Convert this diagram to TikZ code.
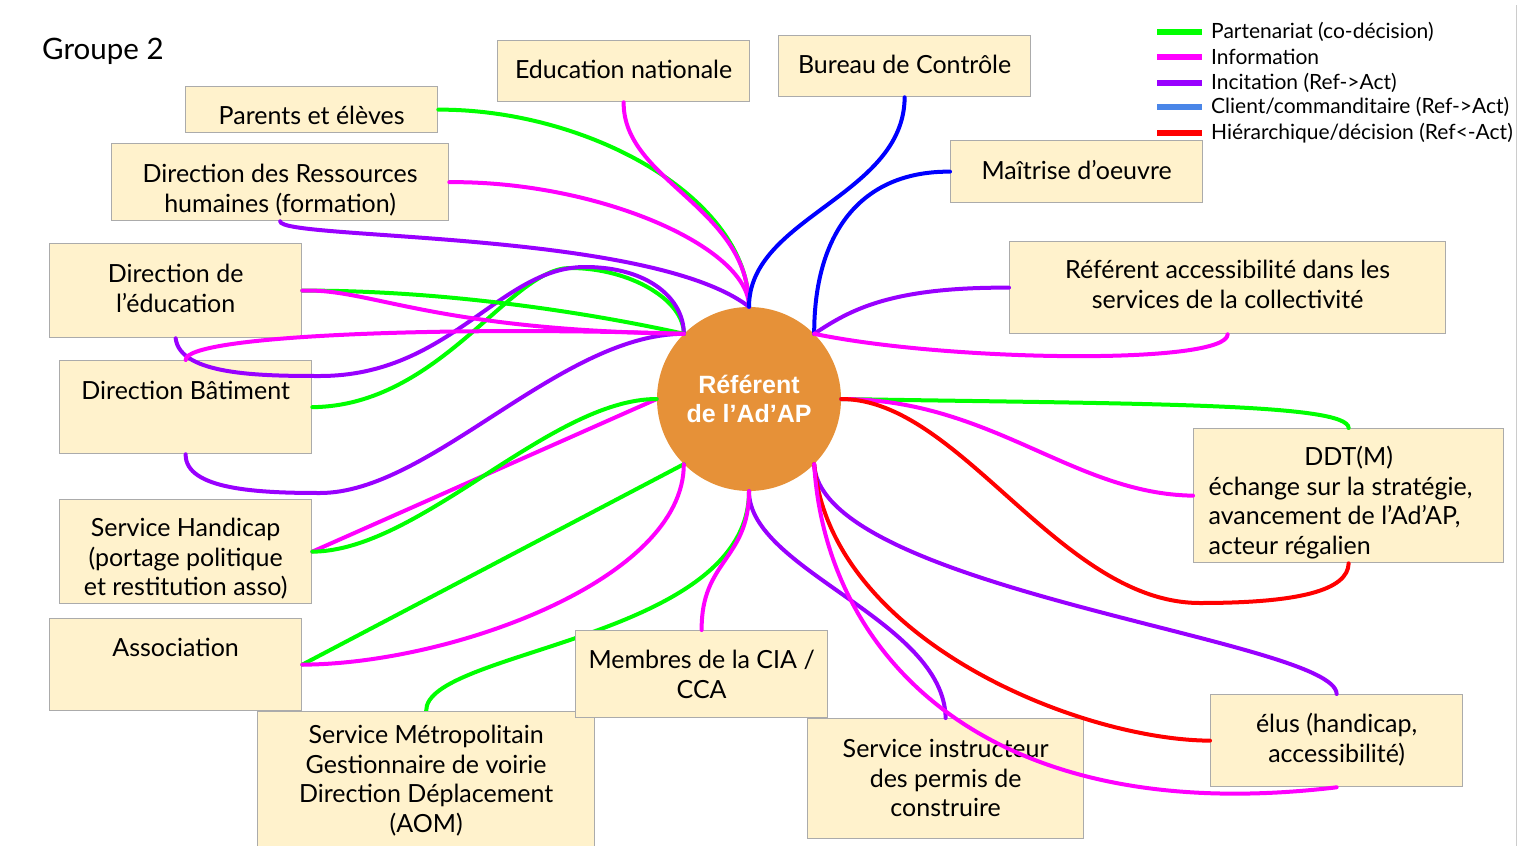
\documentclass[tikz,border=0pt]{standalone}
\usepackage{fontspec}
\setmainfont{Lato}
\newfontfamily\reffont{Liberation Sans}
\definecolor{cgreen}{HTML}{00FF00}
\definecolor{cmag}{HTML}{FF00FF}
\definecolor{cpurp}{HTML}{9900FF}
\definecolor{cblue}{HTML}{0000FF}
\definecolor{clblue}{HTML}{4A86E8}
\definecolor{cred}{HTML}{FF0000}
\definecolor{boxfill}{HTML}{FFF2CC}
\definecolor{boxline}{HTML}{ABABAB}
\definecolor{refcol}{HTML}{E69138}
\pgfdeclarelayer{back}
\pgfdeclarelayer{bg}
\pgfsetlayers{back,bg,main}
\tikzset{
  box/.style={draw=boxline, fill=boxfill, line width=1.3pt, anchor=north west,
    inner xsep=4pt, inner ysep=0pt, align=center,
    font=\fontsize{25}{29.5}\selectfont},
  tb/.style n args={3}{minimum width=#1pt, text height=#2pt, text depth=#3pt},
  conn/.style={line width=4pt, line cap=round},
  lgreen/.style={conn, draw=cgreen},
  lmag/.style={conn, draw=cmag},
  lpurp/.style={conn, draw=cpurp},
  lblue/.style={conn, draw=cblue},
  lred/.style={conn, draw=cred},
  legline/.style={line width=5.5pt},
  legtext/.style={anchor=west, inner sep=0pt, font=\fontsize{21}{24}\selectfont},
}
\begin{document}
\begin{tikzpicture}[x=1pt,y=-1pt]
\useasboundingbox (0,0) rectangle (1527,846);
\begin{pgfonlayer}{back}
\fill[white] (0,0) rectangle (1527,846);
\end{pgfonlayer}
\draw[black!20, line width=1pt] (1516,5) -- (1516,846);

\node[anchor=west, inner sep=0pt, font=\fontsize{29.5}{32}\selectfont] (title) at (42,51) {Groupe 2};

% boxes (text height = last baseline - top, text depth = bottom - last baseline)
\node[box, tb={252}{38}{8}] (parents) at (185,86) {Parents et élèves};
\node[box, tb={337}{68.5}{8.5}] (rh) at (111,143) {Direction des Ressources\\humaines (formation)};
\node[box, tb={252}{38}{23}] (educ) at (497,40) {Education nationale};
\node[box, tb={252}{38}{23}] (bureau) at (778,35) {Bureau de Contrôle};
\node[box, tb={252}{39}{23}] (maitrise) at (950,140) {Maîtrise d’oeuvre};
\node[box, tb={436}{66.5}{25.5}] (referent) at (1009,241) {Référent accessibilité dans les\\services de la collectivité};
\node[box, tb={252}{68.5}{25.5}] (direduc) at (49,243) {Direction de\\l’éducation};
\node[box, tb={252}{39}{54}] (bat) at (59,360) {Direction Bâtiment};
\node[box, tb={252}{96}{8}] (handicap) at (59,499) {Service Handicap\\(portage politique\\et restitution asso)};
\node[box, tb={252}{38}{54}] (assoc) at (49,618) {Association};
\node[box, tb={337}{120.5}{14.5}] (metro) at (257,711) {Service Métropolitain\\Gestionnaire de voirie\\Direction Déplacement\\(AOM)};
\node[box, tb={252}{67.5}{19.5}] (cia) at (575,630) {Membres de la CIA /\\CCA};
\node[box, tb={276}{98}{22}] (instr) at (807,718) {Service instructeur\\des permis de\\construire};
\node[box, tb={252}{67.5}{24.5}] (elus) at (1210,694) {élus (handicap,\\accessibilité)};
\node[box, tb={310}{125.5}{8.5}, inner xsep=15pt, align=left] (ddt) at (1193,428)
  {\makebox[280pt]{DDT(M)}\\échange sur la stratégie,\\avancement de l’Ad’AP,\\acteur régalien};

% central node
\node[circle, fill=refcol, minimum size=184pt, inner sep=0pt, text=white, align=center,
  font=\reffont\bfseries\fontsize{25}{29}\selectfont] (ref) at (749,399) {Référent\\de l’Ad’AP};

% connector behind the CIA box
\begin{pgfonlayer}{bg}
\draw[lgreen] (ref.south) .. controls (749,640) and (425,650) .. (metro.north);
\end{pgfonlayer}

% top
\draw[lgreen] (parents.east) .. controls (587,109) and (749,197) .. (ref.north);
\draw[lmag] (rh.east) .. controls (598,181) and (749,247) .. (ref.north);
\draw[lpurp] (rh.south) .. controls (280,240) and (650,230) .. (ref.north);
\draw[lmag] (educ.south) .. controls (623,181) and (749,207) .. (ref.north);
\draw[lblue] (bureau.south) .. controls (904,196) and (749,217) .. (ref.north);
% top right
\draw[lblue] (maitrise.west) .. controls (860,171) and (814,234) .. (ref.north east);
\draw[lpurp] (referent.west) .. controls (890,287) and (850,310) .. (ref.north east);
\draw[lmag] (referent.south) .. controls (1227,365) and (950,362) .. (ref.north east);
% right
\draw[lgreen] (ref.east) .. controls (1141,404) and (1348,403) .. (ddt.north);
\draw[lmag] (ref.east) .. controls (991,399) and (1073,494) .. (ddt.west);
\draw[lred] (ref.east) .. controls (960,399) and (1060,603) .. (1200,603) .. controls (1300,603) and (1348,590) .. (ddt.south);
% bottom right
\draw[lpurp] (ref.south east) .. controls (820,590) and (1336,640) .. (elus.north);
\draw[lred] (ref.south east) .. controls (830,640) and (1080,740) .. (elus.west);
% bottom
\draw[lpurp] (ref.south) .. controls (749,570) and (944,620) .. (instr.north);
\draw[lmag] (ref.south) .. controls (749,560) and (701,560) .. (cia.north);
% bottom left
\draw[lgreen] (assoc.east) -- (ref.south west);
\draw[lmag] (assoc.east) .. controls (450,664) and (684,580) .. (ref.south west);
% left
\draw[lmag] (handicap.east) -- (ref.west);
\draw[lgreen] (handicap.east) .. controls (420,551) and (550,399) .. (ref.west);
% top left
\draw[lpurp] (bat.south) .. controls (185,490) and (260,493) .. (320,493) .. controls (430,493) and (560,334) .. (ref.north west);
\draw[lgreen] (bat.east) .. controls (440,406) and (510,268) .. (570,268) .. controls (630,268) and (684,300) .. (ref.north west);
\draw[lpurp] (direduc.south) .. controls (180,375) and (260,376) .. (320,376) .. controls (450,376) and (500,267) .. (585,267) .. controls (650,267) and (684,300) .. (ref.north west);
\draw[lgreen] (direduc.east) .. controls (450,290) and (600,315) .. (ref.north west);
\draw[lmag] (direduc.east) .. controls (370,288) and (430,330) .. (ref.north west);
\draw[lmag] (bat.north) .. controls (185,335) and (450,326) .. (ref.north west);
% over the Service instructeur box
\draw[lmag] (ref.south east) .. controls (825,650) and (980,830) .. (elus.south);

% legend
\coordinate (l1) at (1157,32); \coordinate (l1e) at (1202,32);
\coordinate (l2) at (1157,57); \coordinate (l2e) at (1202,57);
\coordinate (l3) at (1157,83); \coordinate (l3e) at (1202,83);
\coordinate (l4) at (1157,107); \coordinate (l4e) at (1202,107);
\coordinate (l5) at (1157,133); \coordinate (l5e) at (1202,133);
\draw[legline, cgreen] (l1) -- (l1e);
\draw[legline, cmag] (l2) -- (l2e);
\draw[legline, cpurp] (l3) -- (l3e);
\draw[legline, clblue] (l4) -- (l4e);
\draw[legline, cred] (l5) -- (l5e);
\node[legtext] (t1) at (1211,32) {Partenariat (co-décision)};
\node[legtext] (t2) at (1211,57) {Information};
\node[legtext] (t3) at (1211,83) {Incitation (Ref->Act)};
\node[legtext] (t4) at (1211,107) {Client/commanditaire (Ref->Act)};
\node[legtext] (t5) at (1211,133) {Hiérarchique/décision (Ref<-Act)};
\end{tikzpicture}
\end{document}
